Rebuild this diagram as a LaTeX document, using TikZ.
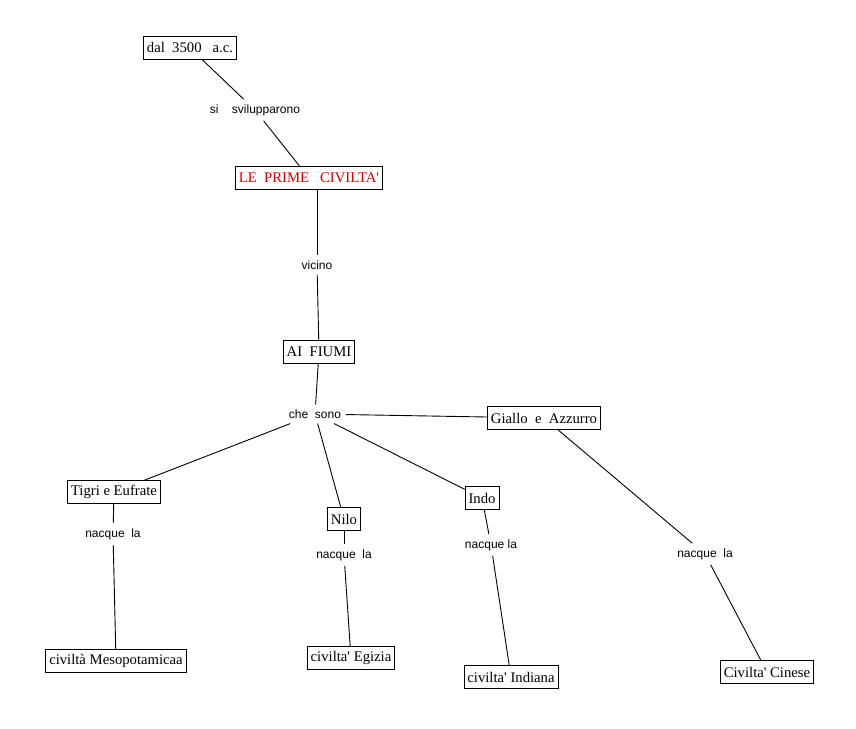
\documentclass[tikz,border=0pt]{standalone}
\usepackage{fontspec}
\setmainfont{Liberation Serif}
\setsansfont{Liberation Sans}
\definecolor{primered}{HTML}{D00000}
\newcommand{\ap}{\textquotesingle}

\begin{document}
\begin{tikzpicture}[
  x=1pt, y=-1pt,
  concept/.style={draw=black, line width=0.8pt, fill=white, font=\fontsize{14.7}{16}\selectfont,
                  minimum height=23pt, inner xsep=3.5pt, inner ysep=2pt},
  link/.style={font=\sffamily\fontsize{12}{14}\selectfont, inner sep=5pt},
  conn/.style={line width=0.9pt, draw=black}
]
\useasboundingbox (0,0) rectangle (856,728);

% top of the map
\node[concept] (dal) at (190,48) {dal~~3500~~~a.c.};
\node[link] (svil) at (255,110) {si~~~~svilupparono};
\node[concept, text=primered] (prime) at (309,178) {LE~~PRIME~~~CIVILTA\ap};
\node[link] (vicino) at (317,265) {vicino};
\node[concept] (fiumi) at (319,352) {AI~~FIUMI};
\node[link] (chesono) at (315,414) {che~~sono};

% the rivers
\node[concept] (giallo) at (544,418) {Giallo~~e~~Azzurro};
\node[concept] (tigri) at (114,492) {Tigri e Eufrate};
\node[concept] (nilo) at (344,519) {Nilo};
\node[concept] (indo) at (482,498) {Indo};

\node[link] (nacqueT) at (113,534) {nacque~~la};
\node[link] (nacqueN) at (344,555) {nacque~~la};
\node[link] (nacqueI) at (491,545) {nacque la};
\node[link] (nacqueG) at (705,554) {nacque~~la};

% the civilisations
\node[concept] (meso) at (116,661) {civiltà Mesopotamicaa};
\node[concept] (egizia) at (351,658) {civilta\ap{} Egizia};
\node[concept] (indiana) at (511,677) {civilta\ap{} Indiana};
\node[concept] (cinese) at (767,672) {Civilta\ap{} Cinese};

\draw[conn] (dal) -- (svil);
\draw[conn] (svil) -- (prime);
\draw[conn] (prime.south -| vicino) -- (vicino);
\draw[conn] (vicino) -- (fiumi);
\draw[conn] (fiumi) -- (chesono);
\draw[conn] (chesono) -- (giallo);
\draw[conn] (chesono) -- (tigri);
\draw[conn] (chesono) -- (nilo);
\draw[conn] (chesono) -- (indo);

\draw[conn] (tigri) -- (nacqueT);
\draw[conn] (nacqueT) -- (meso);
\draw[conn] (nilo) -- (nacqueN);
\draw[conn] (nacqueN) -- (egizia);
\draw[conn] (indo) -- (nacqueI);
\draw[conn] (nacqueI) -- (indiana);
\draw[conn] (giallo) -- (nacqueG);
\draw[conn] (nacqueG) -- (cinese);

\end{tikzpicture}
\end{document}
